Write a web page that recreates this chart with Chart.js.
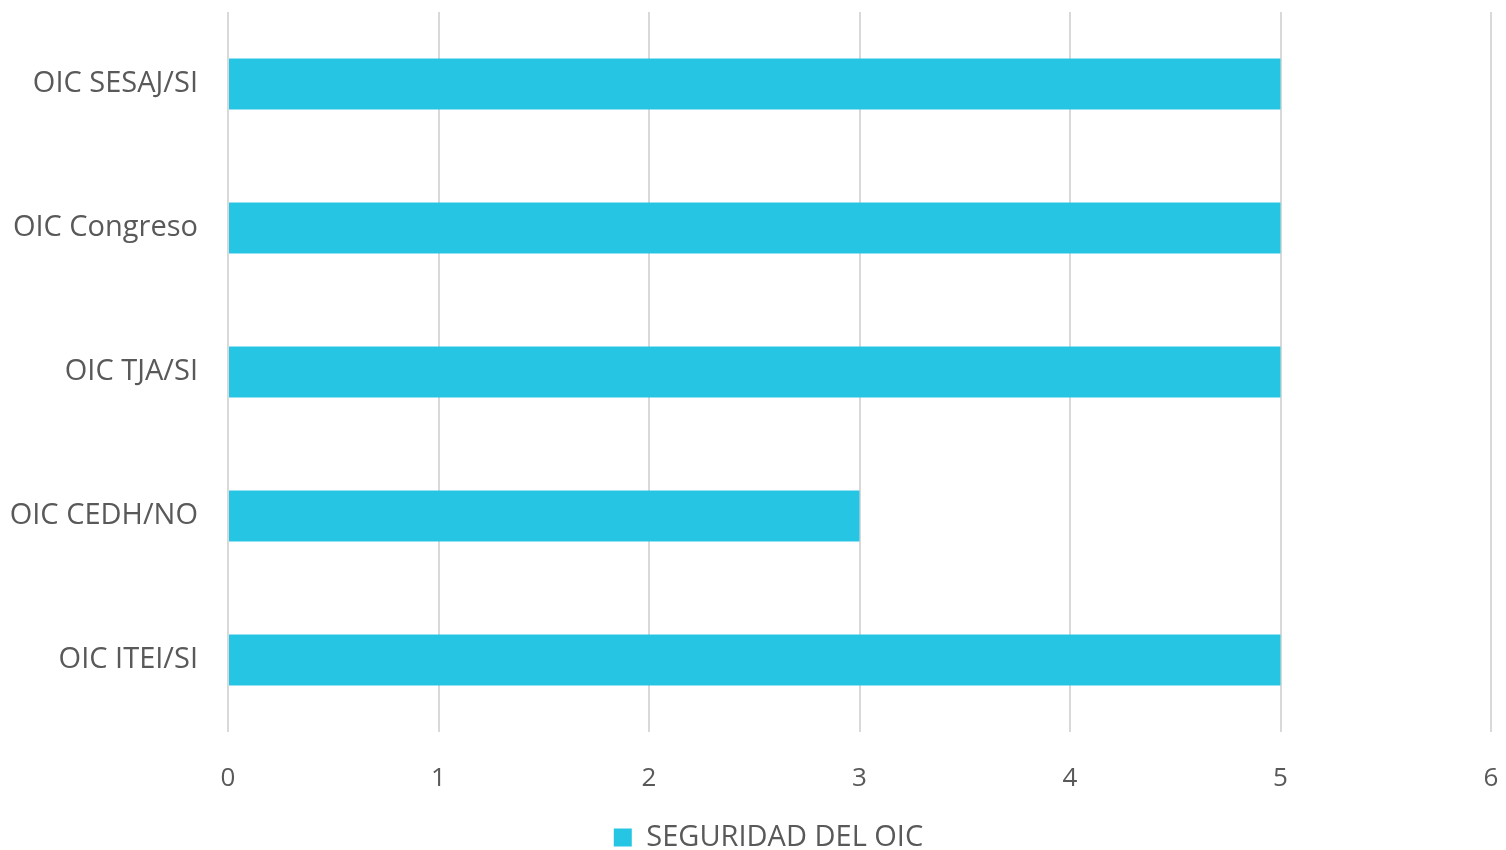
<!DOCTYPE html>
<html>
<head>
<meta charset="utf-8">
<script src="https://cdn.jsdelivr.net/npm/chart.js@4/dist/chart.umd.min.js"></script>
<style>
  html, body { margin: 0; padding: 0; background: #fff; }
  #wrap { width: 1506px; height: 850px; }
</style>
</head>
<body>
<div id="wrap"><canvas id="myChart" width="1506" height="850"></canvas></div>
<script>
'use strict';

// chart data
var categories = ['OIC SESAJ/SI', 'OIC Congreso', 'OIC TJA/SI', 'OIC CEDH/NO', 'OIC ITEI/SI'];
var seguridadValues = [5, 5, 5, 3, 5];
var seriesName = 'SEGURIDAD DEL OIC';
var xTicks = [0, 1, 2, 3, 4, 5, 6];

var barColor = '#26C5E3';
var textColor = '#595959';
var fontFamily = '"Open Sans", "Noto Sans", sans-serif';

// the legend in the reference sits a bit right of the canvas centre
var legendShift = {
  id: 'legendShift',
  afterLayout: function (chart) {
    var lg = chart.legend;
    if (!lg) return;
    lg.left += 23;
    lg.right += 23;
  }
};

var ctx = document.getElementById('myChart').getContext('2d');

var chart = new Chart(ctx, {
  type: 'bar',
  data: {
    labels: categories,
    datasets: [{
      label: seriesName,
      data: seguridadValues,
      backgroundColor: barColor,
      borderWidth: 0,
      categoryPercentage: 1,
      barPercentage: 0.354
    }]
  },
  plugins: [legendShift],
  options: {
    indexAxis: 'y',
    responsive: false,
    animation: false,
    layout: { padding: { left: 0, right: 15, top: 12, bottom: -12 } },
    plugins: {
      tooltip: { enabled: false },
      legend: {
        position: 'bottom',
        labels: {
          color: textColor,
          font: { family: fontFamily, size: 29 },
          boxWidth: 18,
          boxHeight: 18,
          padding: 8
        }
      }
    },
    scales: {
      x: {
        min: xTicks[0],
        max: xTicks[xTicks.length - 1],
        afterFit: function (scale) {
          // keep the plot edges where the reference has them
          scale.paddingLeft = 0;
          scale.paddingRight = 0;
          scale.height = 83;
        },
        ticks: {
          stepSize: 1,
          color: textColor,
          font: { family: fontFamily, size: 26 },
          padding: 31
        },
        grid: { color: '#d9d9d9', lineWidth: 2, drawTicks: false },
        border: { display: false }
      },
      y: {
        afterFit: function (scale) {
          scale.paddingTop = 0;
          scale.paddingBottom = 0;
          scale.width = 228;
        },
        ticks: {
          color: textColor,
          font: { family: fontFamily, size: 29 },
          padding: 22
        },
        grid: { display: false },
        border: { display: false }
      }
    }
  }
});
</script>
</body>
</html>
